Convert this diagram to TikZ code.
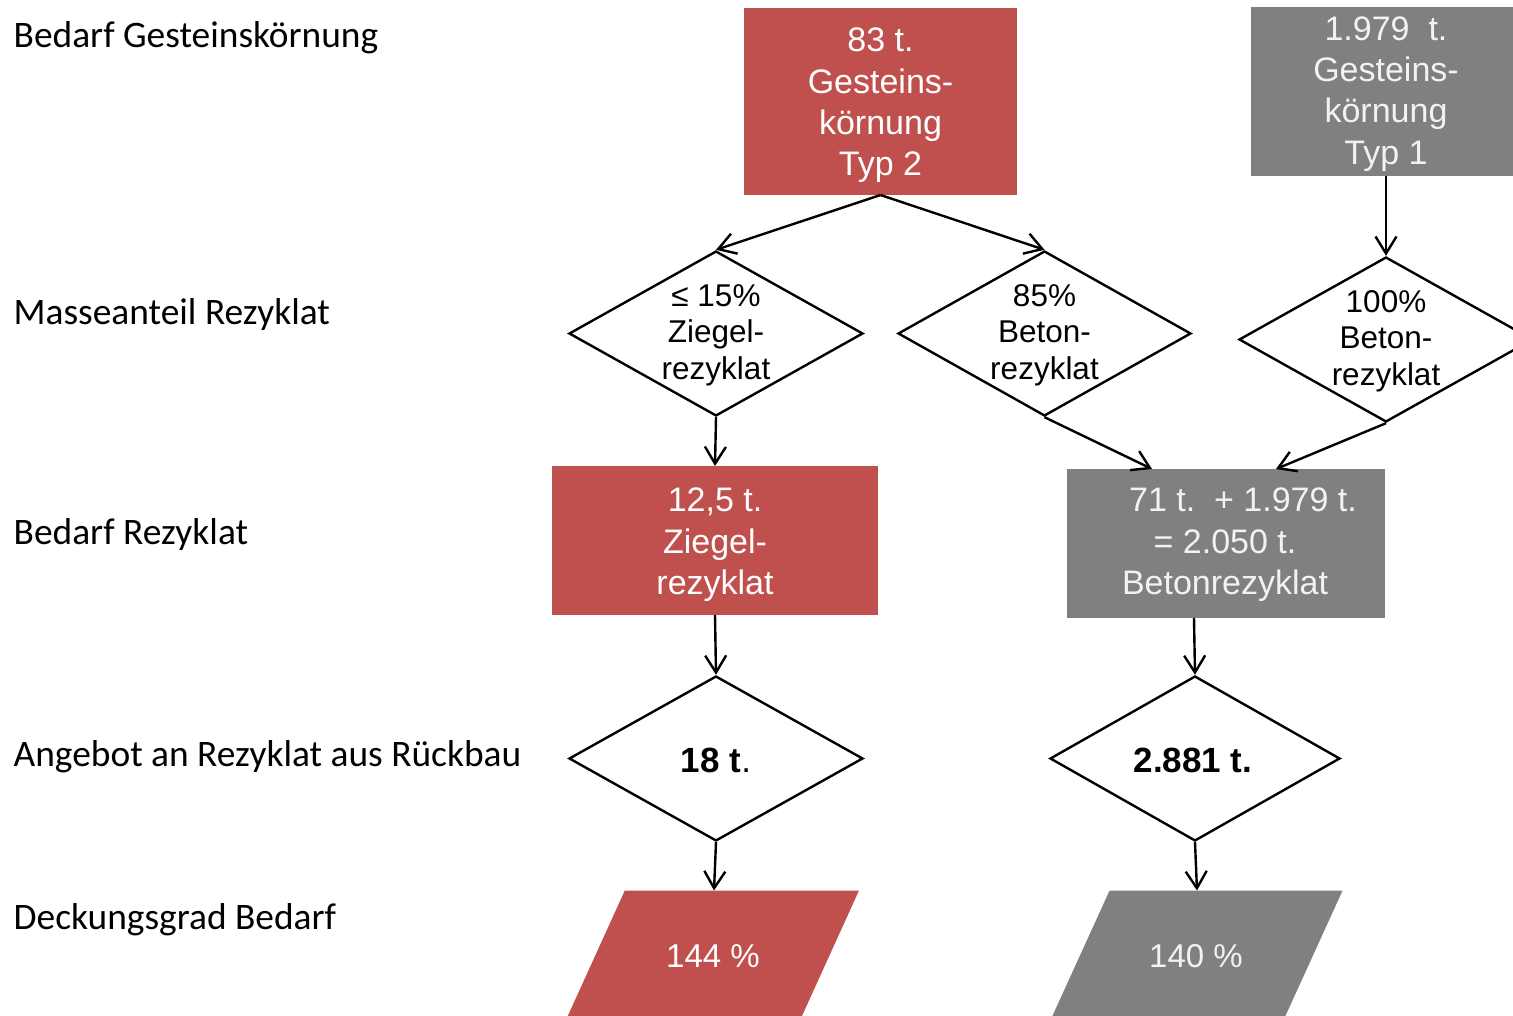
\documentclass[tikz,border=0pt]{standalone}
\usepackage{fontspec}
\setmainfont{Liberation Sans}
\newfontfamily\lblfont{Carlito}
\usetikzlibrary{shapes.geometric,arrows.meta}
\definecolor{boxred}{HTML}{C0504D}
\definecolor{boxgray}{HTML}{808080}
\definecolor{graytext}{HTML}{F2F2F2}
\begin{document}
\begin{tikzpicture}[x=1pt,y=-1pt,
  lbl/.style={anchor=base west, inner sep=0, font=\lblfont\fontsize{37.4}{44}\selectfont},
  boxshape/.style={rectangle, inner sep=0, outer sep=0},
  redfill/.style={boxshape, fill=boxred},
  grayfill/.style={boxshape, fill=boxgray},
  boxtext/.style={inner sep=0, align=center, font=\fontsize{34}{41.3}\selectfont},
  dia/.style={diamond, draw=black, line width=2.4pt, inner sep=0, minimum height=165pt},
  diatext/.style={inner sep=0, align=center, font=\fontsize{31.5}{36.5}\selectfont},
  boldtext/.style={inner sep=0, anchor=base, font=\bfseries\fontsize{35}{42}\selectfont},
  pctext/.style={inner sep=0, anchor=base, text=white, font=\fontsize{33}{40}\selectfont},
  arr/.style={line width=2.4pt, -{Straight Barb[length=17pt,width=21pt]}}
]
\useasboundingbox (0,0) rectangle (1513,1016);
\clip (0,0) rectangle (1513,1016);

% left labels
\node[lbl] (L1) at (13.5,47.5) {Bedarf Gesteinskörnung};
\node[lbl] (L2) at (13.5,325) {Masseanteil Rezyklat};
\node[lbl] (L3) at (13.5,544) {Bedarf Rezyklat};
\node[lbl] (L4) at (13.5,766) {Angebot an Rezyklat aus Rückbau};
\node[lbl] (L5) at (13.5,929) {Deckungsgrad Bedarf};

% top boxes
\node[redfill, minimum width=273pt, minimum height=187pt] (t1) at (880.5,101.5) {};
\node[boxtext, text=white] (t1x) at (880.5,105.4) {83 t.\\Gesteins-\\körnung\\Typ 2};
\node[grayfill, minimum width=270pt, minimum height=169pt] (t3) at (1386,91.5) {};
\node[boxtext, text=graytext] (t3x) at (1386,93.9) {1.979\ \ t.\\Gesteins-\\körnung\\Typ 1};

% diamonds row 2
\node[dia, minimum width=294pt] (d1) at (716,333.5) {};
\node[diatext] (d1x) at (716,335) {≤ 15\%\\Ziegel-\\rezyklat};
\node[dia, minimum width=293pt] (d2) at (1044.5,333.5) {};
\node[diatext] (d2x) at (1044.5,335) {85\%\\Beton-\\rezyklat};
\node[dia, minimum width=294pt] (d3) at (1386,339.5) {};
\node[diatext] (d3x) at (1386,341) {100\%\\Beton-\\rezyklat};

% boxes row 3
\node[redfill, minimum width=326pt, minimum height=149pt] (r2) at (715,540.5) {};
\node[boxtext, text=white] (r2x) at (715,544.7) {12,5 t.\\Ziegel-\\rezyklat};
\node[grayfill, minimum width=318pt, minimum height=149pt] (g2) at (1226,543.5) {};
\node[boxtext, text=graytext] (g2x) at (1225,544.7) {\hspace*{36pt}71 t.\ \ + 1.979 t.\\= 2.050 t.\\Betonrezyklat};

% diamonds row 4
\node[dia, minimum width=294pt] (d4) at (716,758.5) {};
\node[boldtext] (d4x) at (716,772.7) {18 t\textmd{.}};
\node[dia, minimum width=290pt] (d5) at (1195,758.5) {};
\node[boldtext] (d5x) at (1193,772.7) {2.881 t.};

% parallelograms row 5
\fill[boxred] (624.8,890.5) -- (859,890.5) -- (795.6,1030) -- (561.4,1030) -- cycle;
\coordinate (p1top) at (714,890.5);
\node[pctext] (p1x) at (713,967.7) {144 \%};
\fill[boxgray] (1109.6,890.5) -- (1342.6,890.5) -- (1279,1030) -- (1046,1030) -- cycle;
\coordinate (p2top) at (1197,890.5);
\node[pctext, text=graytext] (p2x) at (1196,967.7) {140 \%};

% connectors
\draw[arr] (t1.south) -- (d1.north);
\draw[arr] (t1.south) -- (d2.north);
\draw[arr] (t3.south) -- (d3.north);
\draw[arr] (d1.south) -- (r2.north);
\draw[arr] (d2.south) -- ([xshift=85pt]g2.north west);
\draw[arr] (d3.south) -- ([xshift=209pt]g2.north west);
\draw[arr] (r2.south) -- (d4.north);
\draw[arr] ([xshift=-32pt]g2.south) -- (d5.north);
\draw[arr] (d4.south) -- (p1top);
\draw[arr] (d5.south) -- (p2top);
\end{tikzpicture}
\end{document}
